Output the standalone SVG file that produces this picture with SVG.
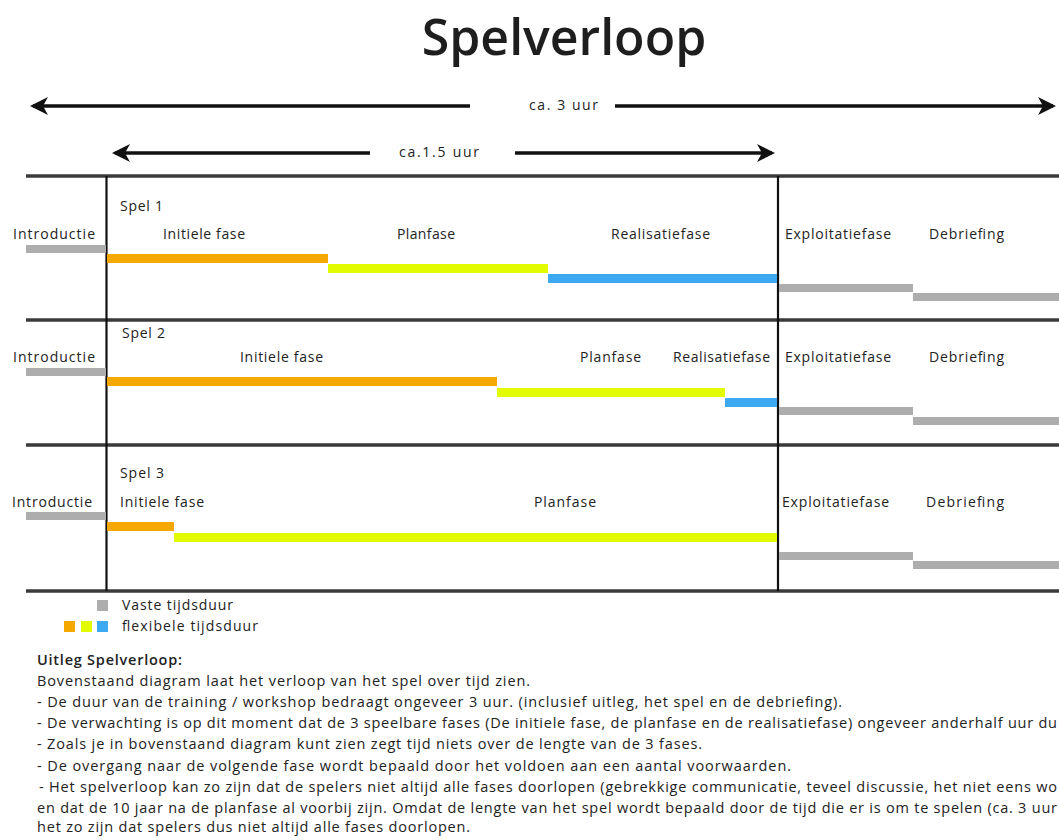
<svg xmlns="http://www.w3.org/2000/svg" width="1059" height="840" viewBox="0 0 1059 840">
<style>
.t{font-family:"Open Sans","Liberation Sans",sans-serif;fill:#222;}
.lbl{font-size:14px;}
.body{font-size:14.5px;}
.bold{font-weight:600;}
.title{font-size:50px;font-weight:600;fill:#1e1e1e;}
.hl{stroke:#3a3a3a;stroke-width:3.5;fill:none;}
.vl{stroke:#111;stroke-width:2.2;fill:none;}
.arr{stroke:#111;stroke-width:3.5;fill:none;}
.or{fill:#F5A800;}
.ye{fill:#E2FB00;}
.bl{fill:#3DA9F2;}
.gr{fill:#ADADAD;}
</style>
<defs>
<marker id="ah" viewBox="0 0 18 18" refX="15" refY="9" markerWidth="18" markerHeight="18" markerUnits="userSpaceOnUse" orient="auto-start-reverse">
<path d="M0,0 L18,9 L0,18 L5,9 Z" fill="#111"/>
</marker>
</defs>
<rect width="1059" height="840" fill="#ffffff"/>
<text class="t title" x="564" y="55" text-anchor="middle">Spelverloop</text>

<g id="connectors">
<line class="arr" x1="470" y1="106" x2="33" y2="106" marker-end="url(#ah)"/>
<line class="arr" x1="615" y1="106" x2="1053" y2="106" marker-end="url(#ah)"/>
<line class="arr" x1="370" y1="153" x2="115" y2="153" marker-end="url(#ah)"/>
<line class="arr" x1="515" y1="153" x2="772" y2="153" marker-end="url(#ah)"/>
</g>
<g id="duration-labels">
<text class="t lbl" x="529" y="110" textLength="69">ca. 3 uur</text>
<text class="t lbl" x="399" y="157" textLength="80">ca.1.5 uur</text>
</g>

<g id="grid">
<line class="hl" x1="26" y1="176" x2="1059" y2="176"/>
<line class="hl" x1="26" y1="320" x2="1059" y2="320"/>
<line class="hl" x1="26" y1="445" x2="1059" y2="445"/>
<line class="hl" x1="26" y1="591" x2="1059" y2="591"/>
<line class="vl" x1="106.5" y1="176" x2="106.5" y2="591"/>
<line class="vl" x1="778" y1="176" x2="778" y2="591"/>
</g>

<g id="spel1">
<text class="t lbl" x="120" y="211" textLength="43">Spel 1</text>
<text class="t lbl" x="13" y="239" textLength="82">Introductie</text>
<text class="t lbl" x="163" y="239" textLength="82">Initiele fase</text>
<text class="t lbl" x="397" y="239" textLength="58">Planfase</text>
<text class="t lbl" x="611" y="239" textLength="99">Realisatiefase</text>
<text class="t lbl" x="785" y="239" textLength="106">Exploitatiefase</text>
<text class="t lbl" x="929" y="239" textLength="75">Debriefing</text>
<rect class="gr" x="26" y="245" width="80" height="8"/>
<rect class="or" x="107" y="254" width="221" height="9"/>
<rect class="ye" x="328" y="264" width="220" height="9"/>
<rect class="bl" x="548" y="274" width="229" height="9"/>
<rect class="gr" x="779" y="284" width="134" height="8"/>
<rect class="gr" x="913" y="293" width="146" height="8"/>
</g>

<g id="spel2">
<text class="t lbl" x="122" y="338" textLength="43">Spel 2</text>
<text class="t lbl" x="13" y="362" textLength="82">Introductie</text>
<text class="t lbl" x="240" y="362" textLength="83">Initiele fase</text>
<text class="t lbl" x="580" y="362" textLength="61">Planfase</text>
<text class="t lbl" x="673" y="362" textLength="97">Realisatiefase</text>
<text class="t lbl" x="785" y="362" textLength="106">Exploitatiefase</text>
<text class="t lbl" x="929" y="362" textLength="75">Debriefing</text>
<rect class="gr" x="26" y="368" width="80" height="8"/>
<rect class="or" x="107" y="377" width="390" height="9"/>
<rect class="ye" x="497" y="388" width="228" height="9"/>
<rect class="bl" x="725" y="398" width="52" height="9"/>
<rect class="gr" x="779" y="407" width="134" height="8"/>
<rect class="gr" x="913" y="417" width="146" height="8"/>
</g>

<g id="spel3">
<text class="t lbl" x="120" y="478" textLength="44">Spel 3</text>
<text class="t lbl" x="12" y="507" textLength="80">Introductie</text>
<text class="t lbl" x="120" y="507" textLength="84">Initiele fase</text>
<text class="t lbl" x="534" y="507" textLength="62">Planfase</text>
<text class="t lbl" x="782" y="507" textLength="107">Exploitatiefase</text>
<text class="t lbl" x="926" y="507" textLength="78">Debriefing</text>
<rect class="gr" x="26" y="512" width="80" height="8"/>
<rect class="or" x="107" y="522" width="67" height="9"/>
<rect class="ye" x="174" y="533" width="603" height="9"/>
<rect class="gr" x="779" y="552" width="134" height="8"/>
<rect class="gr" x="913" y="561" width="146" height="8"/>
</g>

<g id="legend">
<rect class="gr" x="97" y="600" width="11" height="11"/>
<rect class="or" x="64" y="621" width="11" height="11"/>
<rect class="ye" x="81" y="621" width="11" height="11"/>
<rect class="bl" x="97" y="621" width="11" height="11"/>
<text class="t lbl" x="122" y="610" textLength="111">Vaste tijdsduur</text>
<text class="t lbl" x="122" y="631" textLength="136">flexibele tijdsduur</text>
</g>

<g id="uitleg">
<text class="t body bold" x="37" y="665" textLength="145">Uitleg Spelverloop:</text>
<text class="t body" x="37" y="686" textLength="493">Bovenstaand diagram laat het verloop van het spel over tijd zien.</text>
<text class="t body" x="37" y="707" textLength="805">- De duur van de training / workshop bedraagt ongeveer 3 uur. (inclusief uitleg, het spel en de debriefing).</text>
<text class="t body" x="37" y="728" textLength="1020">- De verwachting is op dit moment dat de 3 speelbare fases (De initiele fase, de planfase en de realisatiefase) ongeveer anderhalf uur du</text>
<text class="t body" x="37" y="749" textLength="665">- Zoals je in bovenstaand diagram kunt zien zegt tijd niets over de lengte van de 3 fases.</text>
<text class="t body" x="37" y="771" textLength="754">- De overgang naar de volgende fase wordt bepaald door het voldoen aan een aantal voorwaarden.</text>
<text class="t body" x="39" y="792" textLength="1018">- Het spelverloop kan zo zijn dat de spelers niet altijd alle fases doorlopen (gebrekkige communicatie, teveel discussie, het niet eens wo</text>
<text class="t body" x="37" y="813" textLength="1020">en dat de 10 jaar na de planfase al voorbij zijn. Omdat de lengte van het spel wordt bepaald door de tijd die er is om te spelen (ca. 3 uur</text>
<text class="t body" x="37" y="832" textLength="433">het zo zijn dat spelers dus niet altijd alle fases doorlopen.</text>
</g>
</svg>
